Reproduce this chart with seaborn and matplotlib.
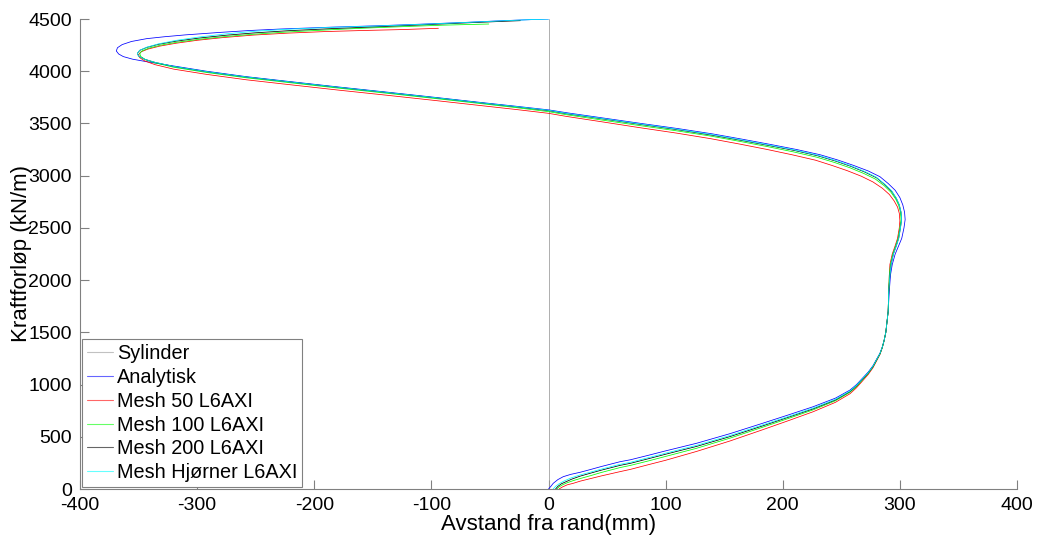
import matplotlib
matplotlib.use("Agg")
import matplotlib.pyplot as plt
import seaborn as sns
import pandas as pd

# ---- data ----
labels = ["Sylinder", "Analytisk", "Mesh 50 L6AXI", "Mesh 100 L6AXI", "Mesh 200 L6AXI", "Mesh Hjørner L6AXI"]
colors = ["#999999", "#0000ff", "#ff0000", "#00ff00", "#000000", "#00ffff"]

syl_x = [0, 0]
syl_y = [0, 4500]

an_x = [0, 2, 4, 8, 12.6, 19, 27, 36, 45, 61, 70, 85, 100, 126.5, 155, 183, 205, 226, 245, 257.5, 263, 268, 273, 277, 280, 283, 285, 286.5, 288, 289, 290, 291, 292, 293.5, 296, 299, 301.6, 303.5, 304.5, 304, 302.5, 300, 296, 290, 283, 273, 260, 247, 232, 212, 189, 165, 140, 111, 79, 48, 17, 0, -28, -57, -97, -138, -180, -220, -258, -292, -320, -343, -355, -363, -367, -369, -368, -364, -356, -343, -328, -310, -280, -255, -229, -185, -144, -110, -70, -39, -15, 0]
an_y = [0, 25, 54, 90, 118, 140, 160, 187, 215, 261, 280, 322, 365, 438, 530, 630, 710, 788, 870, 948, 1000, 1060, 1120, 1180, 1240, 1300, 1360, 1420, 1500, 1600, 1700, 1900, 2050, 2150, 2250, 2330, 2400, 2500, 2580, 2650, 2720, 2790, 2860, 2925, 2990, 3045, 3100, 3150, 3200, 3250, 3300, 3350, 3400, 3450, 3500, 3550, 3600, 3630, 3665, 3700, 3750, 3800, 3850, 3900, 3948, 4000, 4050, 4091, 4115, 4140, 4165, 4194, 4225, 4255, 4285, 4312, 4330, 4348, 4372, 4390, 4404, 4422, 4436, 4450, 4468, 4484, 4494, 4500]

m50_x = [9, 12, 16, 21, 27, 36, 45, 61, 70, 85, 100, 126.5, 155, 183, 205, 226, 245, 257.5, 263, 268, 273, 277, 280, 283, 285, 286.5, 288, 289, 290, 290.5, 291, 291.5, 293.5, 296, 298, 299.5, 300, 299.5, 298, 295, 291, 285, 277, 267, 255, 242, 228, 208, 187, 163, 138, 109, 77, 46, 15, 0, -28, -57, -97, -138, -180, -220, -258, -292, -320, -336, -345, -349, -350, -348, -342, -332, -318, -300, -278, -252, -222, -190, -158, -124, -94]
m50_y = [0, 20, 40, 54, 75, 100, 125, 166, 188, 232, 275, 360, 460, 568, 655, 740, 830, 913, 970, 1033, 1097, 1160, 1224, 1288, 1352, 1418, 1500, 1600, 1700, 1900, 2050, 2150, 2250, 2330, 2400, 2500, 2570, 2640, 2700, 2760, 2820, 2880, 2940, 2995, 3048, 3098, 3148, 3200, 3250, 3303, 3355, 3408, 3461, 3515, 3568, 3597, 3634, 3670, 3720, 3770, 3820, 3870, 3918, 3970, 4020, 4063, 4100, 4130, 4160, 4185, 4212, 4240, 4268, 4296, 4322, 4346, 4365, 4380, 4390, 4399, 4411]

m100_x = [7, 9, 12, 16, 21, 27, 36, 45, 61, 70, 85, 100, 126.5, 155, 183, 205, 226, 245, 257.5, 263, 268, 273, 277, 280, 283, 285, 286.5, 288, 289, 290, 290.5, 291, 292, 294, 296.5, 298.5, 300, 301, 300.5, 299, 296.5, 292.5, 286.5, 279, 269, 257, 244, 229, 209, 187, 163, 138, 109, 77, 46, 15, 0, -28, -57, -97, -138, -180, -220, -258, -292, -320, -336, -344, -348, -349, -347, -341, -331, -317, -298, -276, -252, -224, -190, -160, -124, -90, -51]
m100_y = [0, 20, 40, 60, 80, 100, 128, 158, 205, 226, 268, 312, 390, 487, 592, 676, 758, 845, 927, 982, 1044, 1107, 1169, 1231, 1293, 1356, 1420, 1500, 1600, 1700, 1900, 2050, 2150, 2250, 2330, 2400, 2500, 2580, 2650, 2715, 2775, 2840, 2905, 2968, 3022, 3077, 3127, 3177, 3228, 3278, 3329, 3380, 3430, 3481, 3532, 3584, 3613, 3652, 3689, 3739, 3789, 3839, 3889, 3937, 3988, 4038, 4080, 4110, 4140, 4168, 4195, 4222, 4250, 4278, 4306, 4332, 4354, 4375, 4395, 4411, 4427, 4441, 4452]

m200_x = [6, 8, 11, 15, 20, 27, 36, 45, 61, 70, 85, 100, 126.5, 155, 183, 205, 226, 245, 257.5, 263, 268, 273, 277, 280, 283, 285, 286.5, 288, 289, 290, 290.5, 291.5, 292.5, 294.5, 297, 299, 300.5, 301.5, 301, 299.5, 297, 293, 287, 280, 270, 258, 245, 230, 210, 187, 163, 138, 109, 77, 46, 15, 0, -28, -57, -97, -138, -180, -220, -258, -292, -320, -336, -345, -350, -351, -349, -343, -333, -318, -298, -275, -250, -222, -185, -144, -110, -70, -40, -24]
m200_y = [0, 25, 50, 70, 95, 123, 152, 180, 226, 246, 289, 333, 408, 502, 605, 688, 768, 853, 934, 988, 1049, 1111, 1172, 1234, 1295, 1357, 1420, 1500, 1600, 1700, 1900, 2050, 2150, 2250, 2330, 2400, 2500, 2580, 2650, 2720, 2782, 2850, 2915, 2980, 3035, 3090, 3140, 3190, 3241, 3291, 3341, 3391, 3442, 3493, 3544, 3594, 3623, 3660, 3696, 3746, 3796, 3846, 3896, 3944, 3995, 4045, 4085, 4115, 4145, 4171, 4200, 4228, 4258, 4288, 4318, 4345, 4368, 4388, 4408, 4427, 4443, 4463, 4477, 4484]

hj_x = [4, 6, 9, 13, 19, 27, 36, 45, 61, 70, 85, 100, 126.5, 155, 183, 205, 226, 245, 257.5, 263, 268, 273, 277, 280, 283, 285, 286.5, 288, 289, 290, 290.5, 291.5, 292.5, 294.5, 297, 299, 300.5, 301.5, 301, 299.5, 297, 293, 287, 280, 270, 258, 245, 230, 210, 187, 163, 138, 109, 77, 46, 15, 0, -28, -57, -97, -138, -180, -220, -258, -292, -320, -336, -345, -350, -351, -349, -343, -333, -318, -298, -275, -250, -222, -185, -144, -110, -70, -39, -15, 0]
hj_y = [0, 25, 50, 75, 105, 135, 162, 190, 236, 256, 299, 343, 418, 512, 614, 695, 775, 859, 939, 992, 1053, 1114, 1175, 1236, 1297, 1358, 1420, 1500, 1600, 1700, 1900, 2050, 2150, 2250, 2330, 2400, 2500, 2580, 2650, 2720, 2785, 2855, 2920, 2985, 3040, 3095, 3145, 3195, 3246, 3296, 3346, 3396, 3446, 3497, 3547, 3597, 3626, 3662, 3697, 3747, 3797, 3847, 3897, 3945, 3996, 4046, 4085, 4115, 4145, 4171, 4200, 4230, 4262, 4295, 4328, 4358, 4383, 4402, 4420, 4434, 4448, 4467, 4483, 4494, 4500]

x_ticks = [-400, -300, -200, -100, 0, 100, 200, 300, 400]
y_ticks = [0, 500, 1000, 1500, 2000, 2500, 3000, 3500, 4000, 4500]

series = [(syl_x, syl_y), (an_x, an_y), (m50_x, m50_y), (m100_x, m100_y), (m200_x, m200_y), (hj_x, hj_y)]

frames = []
for lab, (xs, ys) in zip(labels, series):
    frames.append(pd.DataFrame({"x": xs, "y": ys, "serie": lab}))
df = pd.concat(frames, ignore_index=True)

sns.set_theme(style="white")
plt.rcParams["font.family"] = ["Liberation Sans", "DejaVu Sans"]
plt.rcParams["axes.unicode_minus"] = False
plt.rcParams["text.color"] = "black"
plt.rcParams["axes.labelcolor"] = "black"

fig = plt.figure(figsize=(10.39, 5.38), dpi=100)
ax = fig.add_axes([80 / 1039, 49 / 538, 937 / 1039, 470 / 538])

sns.lineplot(data=df, x="x", y="y", hue="serie", hue_order=labels,
             palette=dict(zip(labels, colors)), sort=False, estimator=None,
             linewidth=0.55, ax=ax, legend=True)

ax.set_xlim(-400, 400)
ax.set_ylim(0, 4500)
ax.set_xticks(x_ticks)
ax.set_yticks(y_ticks)
ax.tick_params(direction="in", length=6.5, width=0.8, color="#808080",
               labelsize=14, labelcolor="black", pad=6, bottom=True, left=True)
for s in ["top", "right"]:
    ax.spines[s].set_visible(False)
for s in ["left", "bottom"]:
    ax.spines[s].set_color("#808080")
    ax.spines[s].set_linewidth(0.8)

ax.set_xlabel("Avstand fra rand(mm)", fontsize=16, labelpad=0, color="black")
ax.set_ylabel("Kraftforløp (kN/m)", fontsize=16, labelpad=-3, color="black")

leg = ax.legend(loc="lower left", fontsize=14.3, frameon=True, fancybox=False,
                framealpha=1, edgecolor="#808080", handlelength=1.3,
                handletextpad=0.2, labelspacing=0.24, borderpad=0.25,
                borderaxespad=0.1)
leg.get_frame().set_linewidth(0.8)
for t in leg.get_texts():
    t.set_color("black")
for h, c in zip(leg.get_lines(), colors):
    h.set_color(c)
    h.set_linewidth(0.8)
    h.set_alpha(0.6)

fig.savefig("out.png", dpi=100)
